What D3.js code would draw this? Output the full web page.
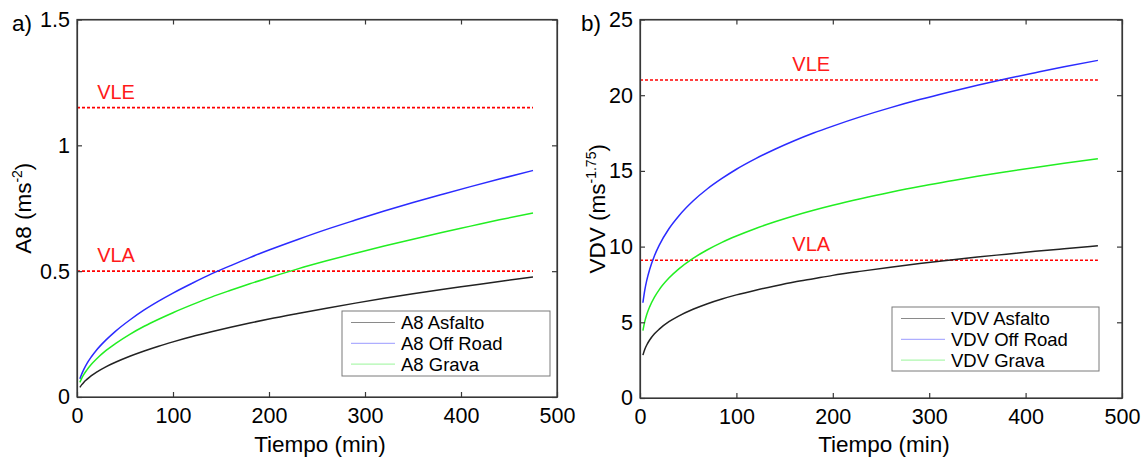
<!DOCTYPE html>
<html>
<head>
<meta charset="utf-8">
<script src="https://cdn.jsdelivr.net/npm/d3@7"></script>
<style>
  body { margin: 0; background: #fff; }
  svg { display: block; font-family: "Liberation Sans", Arial, sans-serif; }
</style>
</head>
<body>
<svg id="chart" width="1145" height="458"></svg>
<script>
// time in minutes, shared by both panels
const tiempo = [3, 5, 7, 10, 15, 20, 30, 40, 55, 70, 85, 100, 120, 140, 160, 180, 200, 230, 260, 290, 320, 350, 380, 410, 440, 475]

const a8Asfalto = [0.038, 0.049, 0.058, 0.069, 0.085, 0.098, 0.120, 0.138, 0.162, 0.183, 0.202, 0.219, 0.240, 0.259, 0.277, 0.294, 0.310, 0.332, 0.353, 0.373, 0.392, 0.410, 0.427, 0.443, 0.459, 0.477]
const a8OffRoad = [0.072, 0.092, 0.109, 0.131, 0.160, 0.185, 0.226, 0.261, 0.306, 0.346, 0.381, 0.413, 0.452, 0.489, 0.522, 0.554, 0.584, 0.626, 0.666, 0.703, 0.739, 0.773, 0.805, 0.836, 0.866, 0.900]
const a8Grava   = [0.058, 0.075, 0.089, 0.106, 0.130, 0.150, 0.184, 0.212, 0.249, 0.281, 0.309, 0.335, 0.367, 0.397, 0.424, 0.450, 0.474, 0.509, 0.541, 0.571, 0.600, 0.627, 0.654, 0.679, 0.704, 0.731]

const vdvAsfalto = [2.83, 3.22, 3.50, 3.83, 4.24, 4.55, 5.04, 5.41, 5.86, 6.23, 6.54, 6.81, 7.12, 7.40, 7.66, 7.88, 8.10, 8.38, 8.64, 8.88, 9.10, 9.31, 9.50, 9.69, 9.86, 10.05]
const vdvOffRoad = [6.29, 7.14, 7.77, 8.49, 9.40, 10.10, 11.18, 12.01, 13.01, 13.82, 14.50, 15.11, 15.81, 16.43, 16.99, 17.50, 17.96, 18.60, 19.18, 19.71, 20.20, 20.66, 21.09, 21.49, 21.88, 22.30]
const vdvGrava   = [4.45, 5.06, 5.51, 6.02, 6.66, 7.16, 7.92, 8.51, 9.22, 9.79, 10.28, 10.70, 11.20, 11.64, 12.04, 12.40, 12.73, 13.18, 13.59, 13.97, 14.31, 14.64, 14.94, 15.23, 15.50, 15.80]

// VLA / VLE limit values
const a8Limits = [{ name: 'VLA', value: 0.5 }, { name: 'VLE', value: 1.15 }]
const vdvLimits = [{ name: 'VLA', value: 9.1 }, { name: 'VLE', value: 21 }]

const xTicks = [0, 100, 200, 300, 400, 500]
const a8Ticks = [0, 0.5, 1, 1.5]
const vdvTicks = [0, 5, 10, 15, 20, 25]

const seriesColors = ['#222222', '#2b2bff', '#22ee22']
const legendColors = ['#8a8a8a', '#9a9aff', '#99f599']

const svg = d3.select('#chart')

function drawPanel(p) {
  const x = d3.scaleLinear().domain([0, 500]).range([p.left, p.right])
  const y = d3.scaleLinear().domain(p.yDomain).range([p.bottom, p.top])
  const g = svg.append('g')

  // limit lines
  p.limits.forEach(function(l) {
    g.append('line')
      .attr('x1', x(0)).attr('x2', x(tiempo[tiempo.length - 1]))
      .attr('y1', y(l.value)).attr('y2', y(l.value))
      .attr('stroke', '#ff0000')
      .attr('stroke-width', 1.6)
      .attr('stroke-dasharray', '3,2')
    g.append('text')
      .attr('x', x(p.limitLabelT))
      .attr('y', y(l.value) - 9)
      .attr('fill', '#ff1a1a')
      .attr('font-size', '20px')
      .text(l.name)
  })

  // curves
  const line = d3.line()
    .x(function(d) { return x(d[0]) })
    .y(function(d) { return y(d[1]) })
    .curve(d3.curveMonotoneX)

  p.series.forEach(function(s, i) {
    g.append('path')
      .datum(tiempo.map(function(t, j) { return [t, s.values[j]] }))
      .attr('fill', 'none')
      .attr('stroke', seriesColors[i])
      .attr('stroke-width', 1.5)
      .attr('d', line)
  })

  // axes, ticks pointing inward on all four sides
  g.append('g')
    .attr('transform', `translate(0,${p.bottom})`)
    .call(d3.axisBottom(x).tickValues(xTicks).tickSizeInner(-5).tickSizeOuter(0).tickPadding(11))
  g.append('g')
    .attr('transform', `translate(${p.left},0)`)
    .call(d3.axisLeft(y).tickValues(p.yTicks).tickFormat(d3.format('~g')).tickSizeInner(-5).tickSizeOuter(0).tickPadding(7))
  g.append('g')
    .attr('transform', `translate(0,${p.top})`)
    .call(d3.axisTop(x).tickValues(xTicks).tickFormat('').tickSizeInner(-5).tickSizeOuter(0))
  g.append('g')
    .attr('transform', `translate(${p.right},0)`)
    .call(d3.axisRight(y).tickValues(p.yTicks).tickFormat('').tickSizeInner(-5).tickSizeOuter(0))

  g.selectAll('.domain, .tick line').attr('stroke', '#383838').attr('stroke-width', 1.2)
  g.selectAll('.tick text')
    .attr('fill', '#000')
    .attr('font-size', '21.5px')
    .attr('font-family', '"Liberation Sans", Arial, sans-serif')

  // frame
  g.append('rect')
    .attr('x', p.left).attr('y', p.top)
    .attr('width', p.right - p.left).attr('height', p.bottom - p.top)
    .attr('fill', 'none')
    .attr('stroke', '#383838')
    .attr('stroke-width', 1.2)

  // x title
  g.append('text')
    .attr('x', (p.left + p.right) / 2 + 3)
    .attr('y', 452)
    .attr('text-anchor', 'middle')
    .attr('font-size', '22.5px')
    .text('Tiempo (min)')

  // y title with superscript unit
  const yt = g.append('text')
    .attr('transform', `translate(${p.yTitleX},${(p.top + p.bottom) / 2})rotate(-90)`)
    .attr('text-anchor', 'middle')
    .attr('font-size', '22.5px')
  yt.append('tspan').text(p.yTitle + ' (ms')
  yt.append('tspan').attr('font-size', '14px').attr('dy', -9).text(p.yExp)
  yt.append('tspan').attr('dy', 9).text(')')

  // panel letter
  g.append('text')
    .attr('x', p.letterX)
    .attr('y', 31)
    .attr('font-size', '22.5px')
    .text(p.letter)

  // legend
  const lg = g.append('g').attr('transform', `translate(${p.legend[0]},${p.legend[1]})`)
  lg.append('rect')
    .attr('width', p.legend[2]).attr('height', p.legend[3])
    .attr('fill', '#fff')
    .attr('stroke', '#7a7a7a')
    .attr('stroke-width', 1)
  p.series.forEach(function(s, i) {
    const base = 18 + i * 20.8
    lg.append('line')
      .attr('x1', 9).attr('x2', 53)
      .attr('y1', base - 6.5).attr('y2', base - 6.5)
      .attr('stroke', legendColors[i])
      .attr('stroke-width', 1)
    lg.append('text')
      .attr('x', 59)
      .attr('y', base)
      .attr('font-size', '18.5px')
      .text(s.name)
  })
}

drawPanel({
  left: 77, right: 557, top: 19.5, bottom: 397,
  yDomain: [0, 1.5], yTicks: a8Ticks,
  limits: a8Limits, limitLabelT: 21,
  series: [
    { name: 'A8 Asfalto', values: a8Asfalto },
    { name: 'A8 Off Road', values: a8OffRoad },
    { name: 'A8 Grava', values: a8Grava }
  ],
  yTitle: 'A8', yExp: '-2', yTitleX: 31,
  letter: 'a)', letterX: 12,
  legend: [342, 311, 208, 65]
})

drawPanel({
  left: 640, right: 1122, top: 19.5, bottom: 398,
  yDomain: [0, 25], yTicks: vdvTicks,
  limits: vdvLimits, limitLabelT: 158,
  series: [
    { name: 'VDV Asfalto', values: vdvAsfalto },
    { name: 'VDV Off Road', values: vdvOffRoad },
    { name: 'VDV Grava', values: vdvGrava }
  ],
  yTitle: 'VDV', yExp: '-1.75', yTitleX: 605,
  letter: 'b)', letterX: 581,
  legend: [892, 307, 207, 64]
})
</script>
</body>
</html>
